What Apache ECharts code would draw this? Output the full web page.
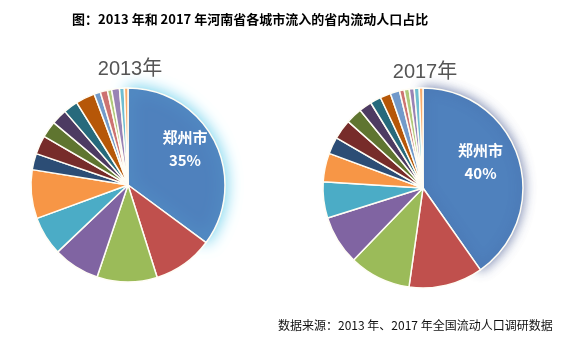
<!DOCTYPE html>
<html><head><meta charset="utf-8">
<script src="https://cdn.jsdelivr.net/npm/echarts@6/dist/echarts.min.js"></script>
<style>html,body{margin:0;padding:0;background:#fff;}#c{width:567px;height:338px;}</style>
</head><body><div id="c"></div>
<script>
const titleText = '图：2013 年和 2017 年河南省各城市流入的省内流动人口占比';
const sourceText = '数据来源：2013 年、2017 年全国流动人口调研数据';
const years = ['2013年', '2017年'];
const cities = ['郑州市','城市2','城市3','城市4','城市5','城市6','城市7','城市8','城市9','城市10','城市11','城市12','城市13','城市14','城市15','城市16','城市17','城市18'];
const share2013 = [35, 10, 10, 7.7, 6.5, 8.1, 2.7, 3.1, 2.75, 2.6, 2.4, 3.2, 1.05, 1.2, 0.7, 1.3, 0.8, 0.6];
const share2017 = [40, 11.9, 9.9, 7.9, 5.8, 4.6, 2.7, 3.2, 2.6, 2.05, 1.75, 1.7, 1.5, 0.75, 0.8, 0.8, 0.8, 0.6];
const palette = ['#4F81BD','#C0504D','#9BBB59','#8064A2','#4BACC6','#F79646','#2C4D75','#772C2A','#5F7530','#4D3B62','#276A7C','#B65708','#729ACA','#CD7371','#AFC97A','#9983B5','#6FBDD1','#F9AB6B'];

const chart = echarts.init(document.getElementById('c'), null, {renderer:'canvas'});
const font = '"Noto Sans CJK SC", "Noto Sans", sans-serif';
const yearFont = '"Liberation Sans", "Noto Sans CJK SC", sans-serif';

function buildData(vals, glow, blur, offset) {
  return vals.map((v, i) => {
    const d = { name: cities[i], value: v, itemStyle: { color: palette[i] } };
    if (i === 0) {
      d.itemStyle.shadowColor = glow;
      d.itemStyle.shadowBlur = blur;
      d.label = {
        show: true, position: 'inside', offset: offset,
        formatter: p => p.name + '\n' + Math.round(p.value) + '%',
        color: '#fff', fontSize: 15, fontWeight: 'bold', lineHeight: 23, fontFamily: font
      };
    }
    return d;
  });
}

chart.setOption({
  backgroundColor: '#fff',
  animation: false,
  title: [
    { text: titleText, left: 67, top: 8, textStyle: { fontSize: 13, fontWeight: 'bold', color: '#000', fontFamily: font } },
    { text: years[0], left: 125, top: 54, textAlign: 'center', textStyle: { fontSize: 20, fontWeight: 'normal', color: '#555', fontFamily: yearFont } },
    { text: years[1], left: 420, top: 57, textAlign: 'center', textStyle: { fontSize: 20, fontWeight: 'normal', color: '#555', fontFamily: yearFont } },
    { text: sourceText, left: 273, top: 314, textStyle: { fontSize: 12, fontWeight: 'normal', color: '#111', fontFamily: font } }
  ],
  series: [
    {
      type: 'pie', center: [128, 185], radius: [0, 97], startAngle: 90, clockwise: true,
      label: { show: false }, labelLine: { show: false },
      itemStyle: { borderColor: '#fffdf5', borderWidth: 1.5 },
      emphasis: { disabled: true },
      data: buildData(share2013, 'rgba(100,205,235,1)', 16, [11, -13])
    },
    {
      type: 'pie', center: [423, 188], radius: [0, 100], startAngle: 90, clockwise: true,
      label: { show: false }, labelLine: { show: false },
      itemStyle: { borderColor: '#fffdf5', borderWidth: 1.5 },
      emphasis: { disabled: true },
      data: buildData(share2017, 'rgba(60,80,140,0.75)', 12, [7, -10])
    }
  ]
});
</script></body></html>
